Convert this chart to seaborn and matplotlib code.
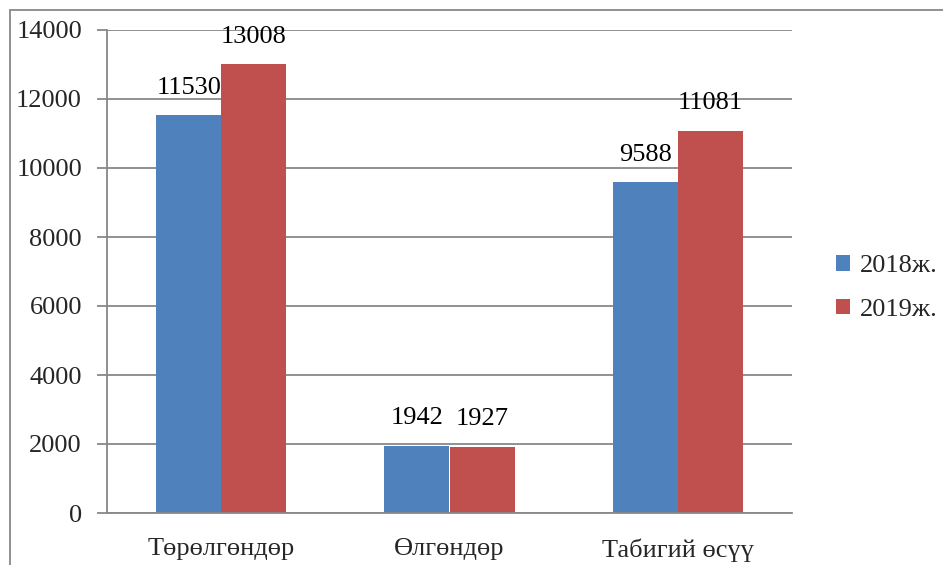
import matplotlib
matplotlib.use("Agg")
import matplotlib.pyplot as plt
from matplotlib.lines import Line2D
import seaborn as sns
import pandas as pd

categories = ["Төрөлгөндөр", "Өлгөндөр", "Табигий өсүү"]
years = ["2018ж.", "2019ж."]
values_2018 = [11530, 1942, 9588]
values_2019 = [13008, 1927, 11081]
yticks = [0, 2000, 4000, 6000, 8000, 10000, 12000, 14000]

df = pd.DataFrame({
    "category": categories * 2,
    "year": [years[0]] * 3 + [years[1]] * 3,
    "value": values_2018 + values_2019,
})

sns.set_theme(style="white")
plt.rcParams["font.family"] = ["Liberation Serif", "DejaVu Serif"]

fs = 19
grey = "#888888"
fig = plt.figure(figsize=(9.43, 5.65), dpi=100)
ax = fig.add_axes([107 / 943, 1 - 513 / 565, (792 - 107) / 943, (513 - 30) / 565])

sns.barplot(data=df, x="category", y="value", hue="year",
            palette=["#4F81BD", "#C0504D"], width=0.57, ax=ax,
            saturation=1, errorbar=None, linewidth=0)

for cont in ax.containers:
    ax.bar_label(cont, fmt="%d", padding=12, fontsize=fs, color="black")

ax.set_ylim(0, 14000)
ax.set_xlim(-0.5, 2.5)
ax.set_yticks(yticks)
ax.set_yticklabels([str(t) for t in yticks], fontsize=fs)
ax.yaxis.grid(True, color=grey, linewidth=1.3)
ax.set_axisbelow(True)
ax.set_xlabel("")
ax.set_ylabel("")

for s in ["top", "right"]:
    ax.spines[s].set_visible(False)
for s in ["left", "bottom"]:
    ax.spines[s].set_color(grey)
    ax.spines[s].set_linewidth(1.3)

ax.set_xticks([0, 1, 2])
ax.set_xticklabels(categories, fontsize=fs)
ax.set_xticks([-0.5, 0.5, 1.5, 2.5], minor=True)
ax.tick_params(axis="x", which="major", length=0, pad=18)
ax.tick_params(axis="x", which="minor", length=7, width=1.3, color=grey, direction="out")
ax.tick_params(axis="y", length=7, width=1.3, color=grey, direction="out", pad=11, left=True)

leg = ax.legend(loc="center left", bbox_to_anchor=(812 / 943, 1 - 288 / 565),
                bbox_transform=fig.transFigure, frameon=False, fontsize=fs,
                handlelength=0.55, handleheight=0.55, handletextpad=0.35,
                labelspacing=0.8)

# outer chart border (only left and top visible in the crop)
fig.add_artist(Line2D([10 / 943, 10 / 943], [0, 1 - 10 / 565], color=grey,
                      linewidth=1.3, transform=fig.transFigure))
fig.add_artist(Line2D([10 / 943, 1], [1 - 10 / 565, 1 - 10 / 565], color=grey,
                      linewidth=1.3, transform=fig.transFigure))

fig.savefig("out.png", dpi=100)
